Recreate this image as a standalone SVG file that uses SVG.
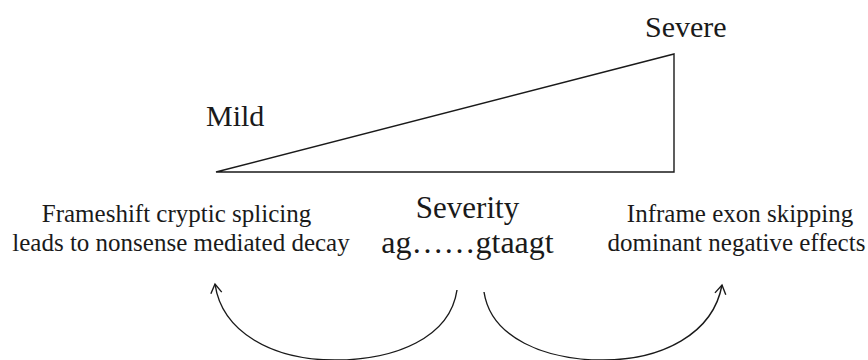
<svg xmlns="http://www.w3.org/2000/svg" width="868" height="360" viewBox="0 0 868 360">
  <style>
    .t { font-family: "Liberation Serif", Tinos, "Times New Roman", "Nimbus Roman", "DejaVu Serif", serif; fill: #1a1a1a; }
    .big { font-size: 30px; }
    .mid { font-size: 31px; }
    .small { font-size: 25px; }
    .ln { fill: none; stroke: #1a1a1a; stroke-width: 1.4; }
  </style>
  <defs>
    <marker id="arr" markerUnits="userSpaceOnUse" markerWidth="20" markerHeight="20" refX="0" refY="0" viewBox="-12 -10 14 20" orient="auto">
      <path d="M -9 -5.5 L 0 0 L -9 5.5" fill="none" stroke="#1a1a1a" stroke-width="1.4"/>
    </marker>
  </defs>
  <rect width="868" height="360" fill="#ffffff"/>

  <g id="triangle">
    <polygon class="ln" points="216,172 674,54 674,172"/>
  </g>
  <g id="mild">
    <text class="t big" x="206" y="126" font-family="Liberation Serif, serif">Mild</text>
  </g>
  <g id="severe">
    <text class="t big" x="645" y="37">Severe</text>
  </g>
  <g id="severity">
    <text class="t mid" x="467.5" y="218" text-anchor="middle">Severity</text>
    <text class="t" style="font-size:32px" x="467.5" y="253" text-anchor="middle">ag……gtaagt</text>
  </g>
  <g id="frameshift">
    <text class="t small" x="176.5" y="222" text-anchor="middle">Frameshift cryptic splicing</text>
    <text class="t small" x="181" y="251" text-anchor="middle">leads to nonsense mediated decay</text>
  </g>
  <g id="inframe">
    <text class="t small" x="740" y="222" text-anchor="middle">Inframe exon skipping</text>
    <text class="t small" x="736.5" y="251" text-anchor="middle">dominant negative effects</text>
  </g>
  <g id="connectors">
    <path class="ln" marker-end="url(#arr)" d="M 457 290 C 450 338, 395 360, 335 360 C 272 360, 222 332, 215 284"/>
    <path class="ln" marker-end="url(#arr)" d="M 484 292 C 491 338, 545 360, 603 360 C 662 360, 713 334, 722 285"/>
  </g>
</svg>
